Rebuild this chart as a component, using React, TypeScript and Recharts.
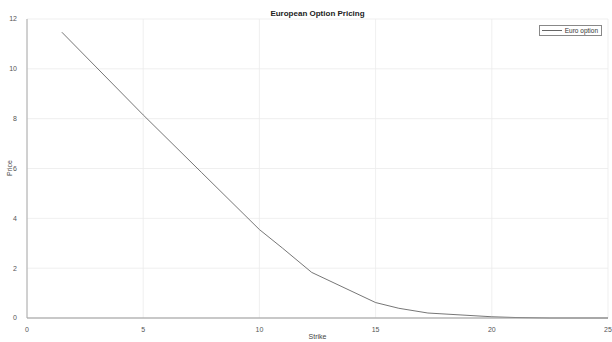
import { LineChart, Line, XAxis, YAxis, CartesianGrid } from "recharts";

const strikes = [1.5, 5, 7.5, 10, 11, 12.25, 15, 16, 17.25, 20, 21, 22.5, 25];
const prices = [11.47, 8.15, 5.85, 3.55, 2.8, 1.83, 0.62, 0.39, 0.2, 0.05, 0.02, 0, 0];
const xTicks = [0, 5, 10, 15, 20, 25];
const yTicks = [0, 2, 4, 6, 8, 10, 12];

const data = strikes.map((s, i) => ({ strike: s, price: prices[i] }));

const font = "'Liberation Sans', Arial, Helvetica, sans-serif";

export default function App() {
  return (
    <div style={{ position: "absolute", left: 0, top: 0, width: 612, height: 342, background: "#fff" }}>
      <div
        style={{
          position: "absolute",
          top: 9,
          left: 27,
          width: 581,
          textAlign: "center",
          fontFamily: font,
          fontWeight: "bold",
          fontSize: 8,
          color: "#222",
        }}
      >
        European Option Pricing
      </div>
      {/* legend box, top right like matlab */}
      <div
        style={{
          position: "absolute",
          top: 25,
          right: 10,
          border: "1px solid #888",
          background: "#fff",
          display: "flex",
          alignItems: "center",
          padding: "0 3px 0 2px",
          height: 9,
          fontFamily: font,
          fontSize: 6.5,
          color: "#333",
          zIndex: 2,
        }}
      >
        <span style={{ display: "inline-block", width: 20, borderTop: "1px solid #666", marginRight: 3 }} />
        Euro option
      </div>
      <LineChart width={612} height={342} data={data} margin={{ top: 19, right: 4, bottom: 0, left: 0 }}>
        <CartesianGrid stroke="#ebebeb" strokeWidth={0.8} />
        <XAxis
          type="number"
          dataKey="strike"
          domain={[0, 25]}
          ticks={xTicks}
          height={24}
          tick={{ fill: "#555", fontSize: 7, fontFamily: font }}
          tickLine={false}
          tickMargin={3}
          axisLine={{ stroke: "#999" }}
          label={{ value: "Strike", position: "insideBottom", offset: 3, fill: "#444", fontSize: 7, fontFamily: font }}
        />
        <YAxis
          type="number"
          domain={[0, 12]}
          ticks={yTicks}
          width={27}
          tick={{ fill: "#555", fontSize: 7, fontFamily: font }}
          tickLine={false}
          tickMargin={4}
          axisLine={{ stroke: "#aaa" }}
          label={{
            content: () => (
              <text
                x={12}
                y={168}
                transform="rotate(-90 12 168)"
                textAnchor="middle"
                fill="#444"
                fontSize={7}
                fontFamily={font}
              >
                Price
              </text>
            ),
          }}
        />
        <Line
          type="linear"
          dataKey="price"
          name="Euro option"
          stroke="#666"
          strokeWidth={0.9}
          dot={false}
          isAnimationActive={false}
        />
      </LineChart>
    </div>
  );
}
